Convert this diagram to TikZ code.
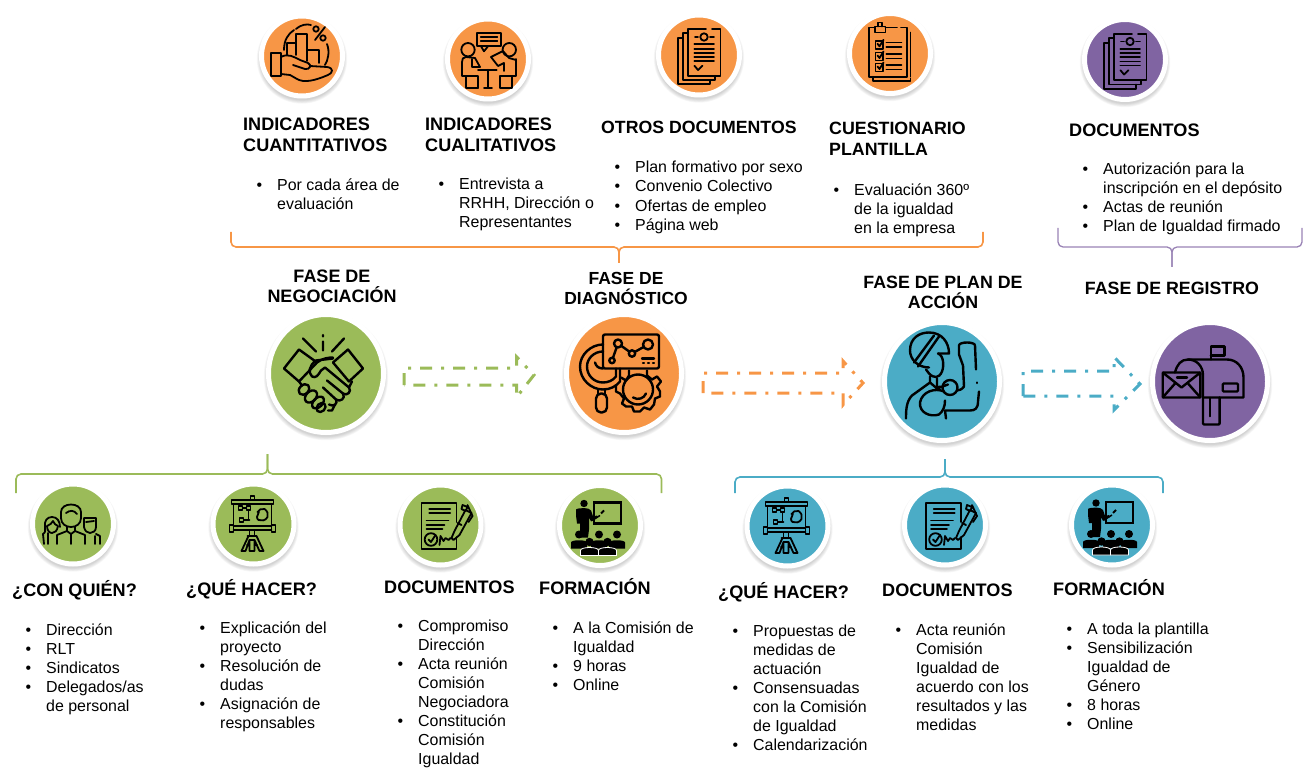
\documentclass[tikz,border=0pt]{standalone}
\usepackage{fontspec}
\setmainfont{Liberation Sans}
\usetikzlibrary{shapes.geometric}
\definecolor{cor}{HTML}{F79646}
\definecolor{cgr}{HTML}{9BBB59}
\definecolor{cbl}{HTML}{4BACC6}
\definecolor{cpu}{HTML}{8064A2}
\newcommand{\bu}{\strut\llap{•\hspace{15pt}}}
\newcommand{\disc}[6]{%
  \foreach \sh in {1,...,6}{\fill[black,opacity=.03] (#2,#3+3) ellipse [x radius={#4+5+\sh*.7-2},y radius={#5+5+\sh*.7-2}];}
  \node[discnode,fill=#6,minimum width={2*#4+5pt},minimum height={2*#5+5pt}] (#1) at (#2,#3) {};}
\newcommand{\brk}[7]{%
  \coordinate (#1l) at (#2,#5); \coordinate (#1r) at (#3,#5);
  \coordinate (#1m) at (#4,#6); \coordinate (#1s) at (#4,#7);
  \draw[rounded corners=5pt,#1c] (#1l) -- (#2,#6) -- (#1m) -- (#1s);
  \draw[rounded corners=5pt,#1c] (#1r) -- (#3,#6) -- (#1m) -- (#1s);}
\tikzset{
  discnode/.style={ellipse,draw=white,line width=5pt,inner sep=0pt,outer sep=0pt},
  ttl/.style={font=\bfseries\fontsize{18.1}{21}\selectfont,align=left,inner sep=0pt,anchor=north west,yshift=14.7pt,execute at begin node=\strut},
  ttc/.style={font=\bfseries\fontsize{18}{20.5}\selectfont,align=center,inner sep=0pt,anchor=north,yshift=14.35pt,execute at begin node=\strut},
  lst/.style={font=\fontsize{15.95}{19}\selectfont,align=left,inner sep=0pt,anchor=north west,yshift=13.3pt},
  dashdot/.style={line width=3pt,dash pattern=on 12pt off 9pt on 3pt off 9pt},
  ic/.style={line width=1.8pt,black,line join=round,line cap=round},
  ich/.style={line width=2.4pt,black,line join=round,line cap=round},
  % bar chart and hand
  pchart/.pic={
    \begin{scope}[ic]
    \draw (-31,-3) rectangle (-21,20);
    \draw (-15,-1) -- (-15,-13) -- (-6,-13);
    \draw (-6,-1) -- (-6,-22) -- (5,-22) -- (5,5);
    \draw (5,-6) -- (17,-6) -- (17,7);
    \draw (-21,1) .. controls (-14,-3) and (-8,1) .. (-2,4) -- (6,7) .. controls (10,9) and (8,14) .. (3,13) -- (-9,9);
    \draw (8,10) -- (25,11) .. controls (32,12) and (31,17) .. (26,19) .. controls (12,25) and (2,27) .. (-5,23) -- (-12,19) -- (-21,18);
    \draw (-18,-6) .. controls (-18,-16) and (-14,-22) .. (-8,-26);
    \draw (-6,-27) .. controls (0,-32) and (5,-32) .. (9,-31);
    \draw (25,-12) .. controls (28,-4) and (26,4) .. (23,9);
    \draw (13,-16) -- (23,-29);
    \draw (14,-27) circle (2.7);
    \draw (21,-18) circle (2.7);
    \end{scope}},
  % meeting
  pmeet/.pic={
    \begin{scope}[ic]
    \draw (-10.7,-26) rectangle (12.7,-12.7);
    \draw (-7,-12.7) -- (-4,-7.7) -- (0,-12.7);
    \draw (-7.3,-21.7) -- (9.3,-21.7) (-7.3,-18) -- (9.3,-18);
    \draw (-20,-9.3) circle (6.7) (21.3,-9.3) circle (6.7);
    \draw (-13,-1) -- (-8,8) -- (-16,8) (-16,0) -- (-16,8);
    \draw (-13,-1) -- (-22,-2) .. controls (-25,-2) and (-26,0) .. (-26,3) -- (-26,17) -- (-10,17) -- (-10,29);
    \draw (-22,17) -- (-22,29) -- (-10,29);
    \draw (28,0) -- (28,17) -- (12,17) -- (12,29) (24,17) -- (24,29) -- (12,29);
    \draw (28,1) -- (21,-1) -- (15,-8) -- (3,-2) -- (10,7) -- (16,4) (16,4) -- (16,12);
    \draw (-10,10.7) -- (8.7,10.7) (0,10.7) -- (0,29) (-4,29) -- (4,29);
    \end{scope}},
  % stack of documents
  pdocs/.pic={
    \begin{scope}[ic]
    \draw (13,-25.7) -- (21.4,-25.7) -- (21.4,20.7) -- (-10.7,20.7) -- (-10.7,-25.7) -- (7,-25.7);
    \draw (-10.7,-21.7) -- (-16,-21.7) -- (-16,25) -- (16,25) -- (16,20.7);
    \draw (-16,-16.7) -- (-21.4,-16.7) -- (-21.4,29.3) -- (10.7,29.3) -- (10.7,25);
    \draw (5,-18) circle (3.7);
    \draw (-4,-18) -- (-1,-18) (11,-18) -- (15,-18);
    \foreach \yy in {-10.7,-6.3,-2.3,2,6}{\draw (-4.6,\yy) -- (15,\yy);}
    \draw (-4.6,10.7) -- (-1,15) -- (3.5,10.7);
    \end{scope}},
  % clipboard
  pclip/.pic={
    \begin{scope}[ic]
    \draw (-4.6,-26) -- (7,-26) (11,-26) -- (16.8,-26) -- (16.8,23.3) -- (-20.7,23.3) -- (-20.7,-26) -- (-15.4,-26);
    \draw (20.4,-21) -- (20.4,23) (20.4,25) -- (20.4,27.7) -- (-17,27.7) -- (-17,23.3);
    \draw (-15.4,-21) rectangle (-4.6,-27);
    \draw (-12,-27) -- (-12,-31) -- (-8,-31) -- (-8,-27);
    \foreach \yy in {-12.7,-1,10}{
      \draw (-14.6,\yy) rectangle (-7,\yy+8);
      \draw (-12.5,\yy+3) -- (-10.5,\yy+5.5) -- (-6.5,\yy-1);
      \draw (-3.6,\yy+1.7) -- (11.4,\yy+1.7) (-3.6,\yy+6) -- (11.4,\yy+6);}
    \end{scope}},
  % handshake
  phands/.pic={
    \begin{scope}[ich]
    \draw (-3,-38.5) -- (-3,-37) (-3,-32) -- (-3,-23) (-23,-35) -- (-10,-22) (18,-35) -- (6,-22);
    \draw (-27,-24) -- (-9,-11) -- (-27,8) -- (-42,-5) -- cycle;
    \draw (22,-24) -- (37,-5) -- (23,8) -- (7,-11) -- cycle;
    \draw (-9,-11) .. controls (-4,-15) and (2,-16) .. (7,-16);
    \draw (7,-15) -- (-10,-13) .. controls (-17,-8) and (-18,-1) .. (-14,3) .. controls (-10,5) and (-8,2) .. (-5,-3) -- (-1,-6) -- (23,14) -- (26,8);
    \draw (23,14) .. controls (26,18) and (21,23) .. (17,20) -- (1,7);
    \draw (17,20) .. controls (20,25) and (14,29) .. (10,26) -- (-3,14);
    \draw (10,26) .. controls (12,30) and (8,34) .. (3,31);
    \draw[rotate around={45:(-22,16)}] (-22,16) ellipse (6 and 4.5);
    \draw[rotate around={45:(-15,23)}] (-15,23) ellipse (7 and 5);
    \draw[rotate around={45:(-8,29)}] (-8,29) ellipse (7 and 4.5);
    \draw[rotate around={45:(-5,34)}] (-5,34) ellipse (5 and 4);
    \draw (-27,8) -- (-24,12) (2,37) -- (6,37) -- (9,31);
    \end{scope}},
  % magnifier, gear and chart
  pdiag/.pic={
    \begin{scope}[ich]
    \draw[rounded corners=2pt] (-21,-39) rectangle (35,-5);
    \draw (-12,-13) -- (-6,-30) -- (8,-20) -- (24,-29);
    \draw[fill=cor] (-12,-13) circle (2.7) (-6,-30) circle (4) (8,-20) circle (3.2) (24,-29) circle (5);
    \draw (18,-15) -- (30,-15);
    \draw (19,-10.5) -- (20,-10.5) (24,-10.5) -- (25,-10.5) (29,-10.5) -- (30,-10.5);
    \draw (-21,-29) .. controls (-33,-29) and (-44,-19) .. (-44,-7) .. controls (-44,6) and (-33,16) .. (-21,16) .. controls (-14,16) and (-8,13) .. (-4,8) -- (-4,-5);
    \draw (-21,-22) .. controls (-30,-22) and (-37,-15) .. (-37,-7) .. controls (-37,2) and (-30,9) .. (-21,9) .. controls (-16,9) and (-11,7) .. (-8,3) -- (-8,-5);
    \draw (-21,-5) .. controls (-25,-5) and (-28,-7) .. (-29,-11);
    \draw[rounded corners=5pt] (-28,20) rectangle (-17,39);
    \draw (-26,16) -- (-26,20) (-19,16) -- (-19,20);
    \draw (14,16) circle (15);
    \draw (9,24) .. controls (14,27) and (20,25) .. (22,20);
    \draw (-3,4) -- (2,7) -- (5,2) -- (5,-3) (23,-3) -- (23,2) -- (28,6) -- (33,3) -- (37,8) -- (33,13) -- (36,18) -- (36,23) -- (31,25) -- (30,31) -- (26,36) -- (20,34) -- (16,38) -- (10,38) -- (8,33) -- (2,33) -- (-2,30) -- (0,25) -- (-4,20) -- (-8,18) -- (-8,12);
    \end{scope}},
  % woman with raised arm
  pwoman/.pic={
    \begin{scope}[ich]
    \draw (-13,-14) .. controls (-24,-14) and (-32,-22) .. (-32,-31) .. controls (-32,-44) and (-22,-49) .. (-13,-49) .. controls (0,-49) and (7,-39) .. (7,-28) -- (-4,-28) ;
    \draw (-28,-19) -- (-8,-46) (-24,-15) -- (-3,-45);
    \draw (-4,-28) .. controls (2,-26) and (2,-15) .. (0,-10) .. controls (-3,-3) and (-8,-3) .. (-13,-8) -- (-16,-12);
    \draw (-12,-5) -- (-12,1) -- (-30,14) .. controls (-36,20) and (-36,30) .. (-36,37);
    \draw (-5,-3) -- (-5,7) -- (-2,5);
    \draw (-12,1) -- (-5,7) -- (6,3);
    \draw (17,-27) -- (21,-16) -- (22,5) (17,-27) -- (17,-36) .. controls (17,-40) and (33,-40) .. (33,-36) -- (34,-12) ;
    \draw (35,1) -- (35,1.5);
    \draw (37,10) -- (36,20) .. controls (36,27) and (33,29) .. (28,29) -- (3,29) (3,29) -- (4,37);
    \draw (8,6) circle (7.5);
    \draw (22,5) .. controls (20,8) and (17,9) .. (15,9);
    \draw (2,10) .. controls (-7,6) and (-20,10) .. (-22,21) .. controls (-23,31) and (-12,36) .. (-3,33) .. controls (1,30) and (3,25) .. (3,19);
    \end{scope}},
  % mail box
  pmail/.pic={
    \begin{scope}[ich]
    \draw (0.8,-22) -- (0.8,-35) -- (14.6,-35) -- (14.6,-26) -- (0.8,-26);
    \draw (-35,-9) .. controls (-33,-17) and (-29,-22) .. (-22,-22) -- (17,-22) .. controls (27,-22) and (33.5,-14) .. (33.5,-4) -- (33.5,16) -- (-7,16);
    \draw (-22,-22) .. controls (-14,-22) and (-7,-16) .. (-7,-6) -- (-7,16);
    \draw[rounded corners=1pt] (-47.3,-9) rectangle (-9.6,16);
    \draw (-47.3,-9) -- (-28.5,6) -- (-9.6,-9) (-47.3,16) -- (-35,2) (-9.6,16) -- (-22,2);
    \draw (-33,-4) -- (-23,-4);
    \draw[rounded corners=1pt] (12.7,2) rectangle (28,10);
    \draw[rounded corners=1pt] (-7,16) -- (-7,43) -- (9.6,43) -- (9.6,16);
    \draw[line width=1.5pt] (0,16) -- (0,35);
    \end{scope}},
  % three people
  pgroup/.pic={
    \begin{scope}[ic]
    \draw (-12,-12) .. controls (-12,-22) and (8,-22) .. (8,-12) -- (8,-6) .. controls (8,0) and (3,3) .. (-2,3) .. controls (-7,3) and (-12,0) .. (-12,-6) -- cycle;
    \draw (-7,-11) .. controls (-3,-14) and (1,-14) .. (4,-10);
    \draw (-6,3) -- (-6,7) -- (-2,10) -- (2,7) -- (2,3) (-6,7) -- (-16,11) -- (-16,20) (2,7) -- (12,11) -- (12,20) (-2,10) -- (-2,20);
    \draw (-21,-7) .. controls (-26,-7) and (-29,-3) .. (-28,3) .. controls (-28,7) and (-27,8) .. (-30,10) -- (-29,20) (-21,-7) .. controls (-16,-7) and (-13,-3) .. (-13,3) ;
    \draw (-26,2) .. controls (-23,1) and (-21,-1) .. (-20,-3) .. controls (-19,0) and (-17,1) .. (-15,2) (-26,2) .. controls (-26,7) and (-23,9) .. (-21,9) .. controls (-18,9) and (-16,7) .. (-15,2);
    \draw (-25,9) -- (-25,20);
    \draw (11,-6) -- (23,-6) -- (23,3) .. controls (23,7) and (20,9) .. (17,9) .. controls (14,9) and (12,7) .. (11,3) -- (11,-6);
    \draw (13,-2) -- (21,-3);
    \draw (23,10) -- (27,12) -- (27,20) (22,12) -- (22,20);
    \end{scope}},
  % presentation board
  pboard/.pic={
    \begin{scope}[ic]
    \draw (-3,-24) -- (-3,-28) -- (1,-28) -- (1,-24);
    \draw (-22,-24) rectangle (20,-20);
    \draw (-20,-20) -- (-20,2) (18,-20) -- (18,2);
    \draw (-24,1) rectangle (-20,8) (18,1) rectangle (22,8);
    \draw (-20,2) -- (18,2) (-20,6) -- (18,6);
    \draw (-4,6) -- (-4,12) (1,6) -- (1,12);
    \draw (-6,12) -- (3,12);
    \draw (-5,12) -- (-12,27) -- (-8,27) -- (-4,16) -- (-4,27) -- (1,27) -- (1,16) -- (6,27) -- (10,27) -- (3,12);
    \draw (-4,16) -- (1,16) (-6.5,21) -- (-4,21) (1,21) -- (3.5,21);
    \draw (-15,-18) rectangle (-11,-14) (-7,-18) rectangle (-3,-14) (-14,-6) rectangle (-10,-2);
    \draw (-11,-16) -- (-7,-16) (-10,-4) -- (-4,-4) (-5,-14) -- (-5,-4);
    \draw (4,-12) .. controls (5,-14) and (8,-16) .. (11,-15) .. controls (14,-13) and (15,-10) .. (14,-7) .. controls (12,-3) and (8,-3) .. (5,-4) .. controls (3,-5) and (3,-9) .. (5,-11) .. controls (6,-12) and (5,-12) .. (4,-12);
    \end{scope}},
  % contract and pen
  pcontract/.pic={
    \begin{scope}[ic]
    \draw (16,-3) -- (16,-22) -- (-19,-22) -- (-19,24) -- (16,24) -- (16,12);
    \draw (-11.3,-16) -- (9.6,-16) (-11.3,-12) -- (9.6,-12);
    \draw (-14,-4.5) -- (8,-4.5) (-14,0) -- (4,0) (-14,4) -- (2,4);
    \draw (-9.5,14.5) circle (6.3);
    \draw (-12,14.5) -- (-9.5,17) -- (-5,10);
    \draw (-1,20) -- (0,11) -- (3,16) -- (5,13) -- (8,15) -- (10,13);
    \draw (11,13) -- (14,6) -- (25,-15) -- (31,-12) -- (19,10) -- (13,15) -- (11,13);
    \draw (17,-2) -- (21,0) (22,-20) -- (27,-18) -- (25,-14) -- (21,-16) -- cycle (27,-20) -- (32,-9) -- (28,-3);
    \end{scope}},
  % teacher and audience
  pteach/.pic={
    \draw[line width=2.2pt,black] (-6,-23) rectangle (21,-2);
    \draw[line width=1.5pt,black] (-8,-5) -- (0,-10);
    \draw[line width=2pt,black] (1,-12) -- (4,-15);
    \fill[black] (-16,-22) circle (3.7);
    \fill[black] (-24,-16) .. controls (-22,-18) and (-10,-18) .. (-9,-15) -- (-7,-9) -- (-3,-10) -- (-2,-8) -- (-9,-4) -- (-11,-8) -- (-11,4) -- (-12,12) -- (-20,12) -- (-20,-2) -- (-23,-2) -- (-24,-10) -- cycle;
    \foreach \xx in {-21,-1,17}{
      \fill[black] (\xx,9) circle (4);
      \fill[black] (\xx-8,23) -- (\xx-8,17) .. controls (\xx-8,14) and (\xx+8,14) .. (\xx+8,17) -- (\xx+8,23) -- cycle;}
    \foreach \xx in {-10.5,7.5}{
      \fill[black] (\xx,16.5) circle (4.2);
      \draw[draw=white,fill=black,line width=.8pt] (\xx-9,30) -- (\xx-9,25) .. controls (\xx-9,21) and (\xx+9,21) .. (\xx+9,25) -- (\xx+9,30) -- cycle;}
  }
}
\begin{document}
\begin{tikzpicture}[x=1pt,y=-1pt,bkc/.style={line width=1.6pt},bgc/.style={bkc,draw=cgr},boc/.style={bkc,draw=cor},bbc/.style={bkc,draw=cbl},bpc/.style={line width=1.3pt,draw=cpu!80!white}]
\useasboundingbox (0,0) rectangle (1303,775);
% brackets
\brk{bo}{231}{983}{619}{232}{247}{263}
\brk{bp}{1058}{1302}{1172}{228}{247}{267}
\brk{bg}{16}{661.5}{267.5}{493}{474}{454}
\brk{bb}{735}{1163}{945}{493}{477}{459}
% discs
\disc{t1}{302}{56}{38}{37.5}{cor}
\disc{t2}{488}{59}{38}{37.5}{cor}
\disc{t3}{699}{55}{38}{37.5}{cor}
\disc{t4}{890}{53.5}{38}{37.5}{cor}
\disc{t5}{1125}{59.5}{38}{37.5}{cpu}
\disc{f1}{326}{373.5}{55}{56.5}{cgr}
\disc{f2}{624}{373.5}{55}{56.5}{cor}
\disc{f3}{942}{381.5}{55}{56.5}{cbl}
\disc{f4}{1210}{381.5}{55}{56.5}{cpu}
\disc{g1}{73}{524}{38}{37.5}{cgr}
\disc{g2}{253.5}{524}{38}{37.5}{cgr}
\disc{g3}{440.5}{525}{38}{37.5}{cgr}
\disc{g4}{600}{525.5}{38}{37.5}{cgr}
\disc{b1}{787.5}{526}{38}{37.5}{cbl}
\disc{b2}{945}{525}{38}{37.5}{cbl}
\disc{b3}{1112}{525}{38}{37.5}{cbl}
% icons
\pic at (t1) {pchart};
\pic at (t2) {pmeet};
\pic at (t3) {pdocs};
\pic at (t4) {pclip};
\pic at (t5) {pdocs};
\pic at (f1) {phands};
\pic at (f2) {pdiag};
\pic at (f3) {pwoman};
\pic at (f4) {pmail};
\pic at (g1) {pgroup};
\pic at (g2) {pboard};
\pic at (g3) {pcontract};
\pic at (g4) {pteach};
\pic at (b1) {pboard};
\pic at (b2) {pcontract};
\pic at (b3) {pteach};
% hollow dash-dot arrows
\draw[dashdot,cgr] (404,385) -- (404,368) -- (516.7,368) -- (516.7,357) -- (534,375) -- (516.7,397) -- (516.7,385) -- cycle;
\draw[dashdot,cor] (703,393) -- (703,373) -- (843,373) -- (843,361) -- (863,383) -- (843,405) -- (843,393) -- cycle;
\draw[dashdot,cbl] (1023,396) -- (1023,371) -- (1114,371) -- (1114,357) -- (1140,384) -- (1114,410) -- (1114,396) -- cycle;
% titles
\node[ttl] (a1) at (243,132.5) {INDICADORES\\CUANTITATIVOS};
\node[ttl] (a2) at (425,132.5) {INDICADORES\\CUALITATIVOS};
\node[ttl,font=\bfseries\fontsize{17.7}{21}\selectfont] (a3) at (601,133) {OTROS DOCUMENTOS};
\node[ttl,font=\bfseries\fontsize{17.8}{21}\selectfont] (a4) at (829,136.5) {CUESTIONARIO\\PLANTILLA};
\node[ttl] (a5) at (1069,136) {DOCUMENTOS};
\node[ttc] (p1) at (332,284) {FASE DE\\NEGOCIACIÓN};
\node[ttc,font=\bfseries\fontsize{17.5}{20.5}\selectfont] (p2) at (626,286) {FASE DE\\DIAGNÓSTICO};
\node[ttc,font=\bfseries\fontsize{17.8}{20.5}\selectfont] (p3) at (943,290) {FASE DE PLAN DE\\ACCIÓN};
\node[ttc,font=\bfseries\fontsize{17.8}{20.5}\selectfont] (p4) at (1172,294) {FASE DE REGISTRO};
\node[ttl] (c1) at (12,595) {¿CON QUIÉN?};
\node[ttl] (c2) at (186,594) {¿QUÉ HACER?};
\node[ttl] (c3) at (384,593) {DOCUMENTOS};
\node[ttl] (c4) at (539,593) {FORMACIÓN};
\node[ttl] (c5) at (718,597) {¿QUÉ HACER?};
\node[ttl] (c6) at (882,596) {DOCUMENTOS};
\node[ttl] (c7) at (1053,594) {FORMACIÓN};
% lists
\node[lst] (l1) at (277,190) {\bu Por cada área de\\evaluación};
\node[lst] (l2) at (459,189) {\bu Entrevista a\\RRHH, Dirección o\\Representantes};
\node[lst,font=\fontsize{15.95}{19.4}\selectfont] (l3) at (635,172) {\bu Plan formativo por sexo\\\bu Convenio Colectivo\\\bu Ofertas de empleo\\\bu Página web};
\node[lst] (l4) at (854,195) {\bu Evaluación 360º\\de la igualdad\\en la empresa};
\node[lst] (l5) at (1103,174) {\bu Autorización para la\\inscripción en el depósito\\\bu Actas de reunión\\\bu Plan de Igualdad firmado};
\node[lst] (m1) at (46,635) {\bu Dirección\\\bu RLT\\\bu Sindicatos\\\bu Delegados/as\\de personal};
\node[lst] (m2) at (220,633) {\bu Explicación del\\proyecto\\\bu Resolución de\\dudas\\\bu Asignación de\\responsables};
\node[lst] (m3) at (418,631) {\bu Compromiso\\Dirección\\\bu Acta reunión\\Comisión\\Negociadora\\\bu Constitución\\Comisión\\Igualdad};
\node[lst] (m4) at (573,633) {\bu A la Comisión de\\Igualdad\\\bu 9 horas\\\bu Online};
\node[lst] (m5) at (753,636) {\bu Propuestas de\\medidas de\\actuación\\\bu Consensuadas\\con la Comisión\\de Igualdad\\\bu Calendarización};
\node[lst] (m6) at (916,635) {\bu Acta reunión\\Comisión\\Igualdad de\\acuerdo con los\\resultados y las\\medidas};
\node[lst] (m7) at (1087,634) {\bu A toda la plantilla\\\bu Sensibilización\\Igualdad de\\Género\\\bu 8 horas\\\bu Online};
\end{tikzpicture}
\end{document}
